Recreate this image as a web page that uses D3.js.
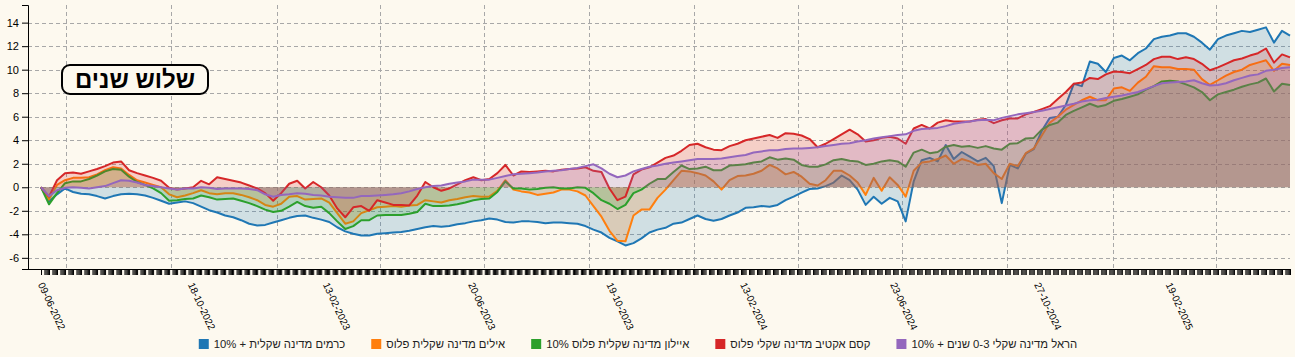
<!DOCTYPE html>
<html><head><meta charset="utf-8">
<script src="https://cdn.jsdelivr.net/npm/d3@7"></script>
<style>
html,body{margin:0;padding:0;background:#fdf9ef;}
svg{display:block;font-family:"Liberation Sans",Arial,sans-serif;}
</style></head><body>
<svg id="chart" width="1295" height="357"></svg>
<script>
const dates = [
"2022-06-09","2022-06-16","2022-06-23","2022-06-30","2022-07-07","2022-07-14","2022-07-21","2022-07-28","2022-08-04","2022-08-11",
"2022-08-18","2022-08-25","2022-09-01","2022-09-08","2022-09-15","2022-09-22","2022-09-29","2022-10-06","2022-10-13","2022-10-20",
"2022-10-27","2022-11-03","2022-11-10","2022-11-17","2022-11-24","2022-12-01","2022-12-08","2022-12-15","2022-12-22","2022-12-29",
"2023-01-05","2023-01-12","2023-01-19","2023-01-26","2023-02-02","2023-02-09","2023-02-16","2023-02-23","2023-03-02","2023-03-09",
"2023-03-16","2023-03-23","2023-03-30","2023-04-06","2023-04-13","2023-04-20","2023-04-27","2023-05-04","2023-05-11","2023-05-18",
"2023-05-25","2023-06-01","2023-06-08","2023-06-15","2023-06-22","2023-06-29","2023-07-06","2023-07-13","2023-07-20","2023-07-27",
"2023-08-03","2023-08-10","2023-08-17","2023-08-24","2023-08-31","2023-09-07","2023-09-14","2023-09-21","2023-09-28","2023-10-05",
"2023-10-12","2023-10-19","2023-10-26","2023-11-02","2023-11-09","2023-11-16","2023-11-23","2023-11-30","2023-12-07","2023-12-14",
"2023-12-21","2023-12-28","2024-01-04","2024-01-11","2024-01-18","2024-01-25","2024-02-01","2024-02-08","2024-02-15","2024-02-22",
"2024-02-29","2024-03-07","2024-03-14","2024-03-21","2024-03-28","2024-04-04","2024-04-11","2024-04-18","2024-04-25","2024-05-02",
"2024-05-09","2024-05-16","2024-05-23","2024-05-30","2024-06-06","2024-06-13","2024-06-20","2024-06-27","2024-07-04","2024-07-11",
"2024-07-18","2024-07-25","2024-08-01","2024-08-08","2024-08-15","2024-08-22","2024-08-29","2024-09-05","2024-09-12","2024-09-19",
"2024-09-26","2024-10-03","2024-10-10","2024-10-17","2024-10-24","2024-10-31","2024-11-07","2024-11-14","2024-11-21","2024-11-28",
"2024-12-05","2024-12-12","2024-12-19","2024-12-26","2025-01-02","2025-01-09","2025-01-16","2025-01-23","2025-01-30","2025-02-06",
"2025-02-13","2025-02-20","2025-02-27","2025-03-06","2025-03-13","2025-03-20","2025-03-27","2025-04-03","2025-04-10","2025-04-17",
"2025-04-24","2025-05-01","2025-05-08","2025-05-15","2025-05-22","2025-05-29","2025-06-05"];

const seriesNames = ["כרמים מדינה שקלית + 10%","אילים מדינה שקלית פלוס","איילון מדינה שקלית פלוס 10%","קסם אקטיב מדינה שקלי פלוס","הראל מדינה שקלי 0-3 שנים + 10%"];
const seriesColors = ["#1f77b4","#ff7f0e","#2ca02c","#d62728","#9467bd"];

const karmim = [
0,-1.2,-0.6,-0.1,-0.4,-0.55,-0.6,-0.75,-0.95,-0.75,
-0.6,-0.55,-0.6,-0.7,-0.9,-1.15,-1.4,-1.3,-1.2,-1.35,
-1.65,-1.95,-2.15,-2.4,-2.55,-2.8,-3.1,-3.25,-3.2,-3.0,
-2.8,-2.6,-2.45,-2.4,-2.6,-2.75,-2.95,-3.4,-3.75,-3.95,
-4.1,-4.1,-3.95,-3.9,-3.85,-3.8,-3.7,-3.55,-3.4,-3.3,
-3.35,-3.3,-3.15,-3.05,-2.9,-2.8,-2.65,-2.75,-2.95,-3.0,
-2.9,-2.9,-2.95,-3.05,-3.0,-3.0,-3.05,-3.1,-3.3,-3.6,
-3.85,-4.3,-4.6,-4.95,-4.75,-4.35,-3.85,-3.6,-3.45,-3.1,
-3.0,-2.7,-2.4,-2.7,-2.85,-2.7,-2.4,-2.15,-1.75,-1.7,
-1.6,-1.65,-1.5,-1.1,-0.8,-0.45,-0.15,-0.1,0.1,0.4,
1.0,0.6,-0.2,-1.5,-0.8,-1.4,-0.9,-1.2,-2.9,0.5,
2.3,2.5,2.2,3.6,2.4,3.0,2.6,2.2,2.5,1.8,
-1.35,1.9,1.6,2.85,3.25,4.8,5.9,6.0,7.0,8.8,
8.6,10.7,10.5,9.8,11.0,11.2,10.8,11.4,11.8,12.6,
12.8,12.9,13.1,13.1,12.8,12.3,11.7,12.6,12.9,13.1,
13.3,13.2,13.4,13.6,12.3,13.3,12.9];

const eilim = [
0,-1.05,0.2,0.6,0.8,0.8,0.85,1.1,1.45,1.7,
1.6,1.05,0.6,0.4,0.2,0.0,-0.6,-0.85,-0.7,-0.5,
-0.25,-0.5,-0.6,-0.5,-0.5,-0.65,-0.85,-1.1,-1.5,-1.65,
-1.4,-0.8,-0.75,-1.05,-1.0,-0.95,-1.3,-2.2,-3.1,-2.9,
-2.2,-1.95,-1.7,-1.65,-1.6,-1.65,-1.55,-1.5,-1.1,-1.2,
-1.3,-1.1,-1.0,-0.85,-0.75,-0.8,-0.8,-0.3,0.6,-0.2,
-0.35,-0.45,-0.65,-0.55,-0.45,-0.2,-0.2,-0.35,-0.7,-1.6,
-2.5,-3.7,-4.55,-4.6,-2.4,-1.9,-1.9,-0.9,-0.2,0.6,
1.4,1.35,1.2,1.0,0.5,-0.2,0.6,0.95,1.0,1.15,
1.4,1.9,1.6,1.1,1.3,0.9,0.3,0.15,0.6,1.4,
1.4,1.0,0.4,-0.65,0.8,-0.3,0.85,0.2,-0.8,1.4,
2.1,2.2,2.4,2.7,2.0,2.4,2.2,1.9,2.0,1.2,
0.7,2.0,1.8,2.9,3.3,4.4,5.5,6.0,6.6,7.0,
7.4,7.7,7.4,7.4,8.4,8.5,8.2,8.9,9.4,10.3,
10.2,10.2,10.05,10.05,10.0,9.2,8.7,9.1,9.5,9.8,
10.0,10.4,10.6,10.8,9.9,10.5,10.4];

const ayalon = [
0,-1.45,-0.5,0.35,0.5,0.5,0.7,1.0,1.35,1.55,
1.5,0.9,0.45,0.2,-0.1,-0.5,-1.15,-1.1,-1.0,-0.95,
-0.7,-0.85,-1.05,-1.0,-0.95,-1.15,-1.35,-1.6,-1.9,-2.1,
-2.0,-1.65,-1.25,-1.6,-1.75,-1.65,-2.2,-2.9,-3.55,-3.3,
-2.8,-2.8,-2.4,-2.35,-2.35,-2.35,-2.25,-2.1,-1.4,-1.6,
-1.6,-1.55,-1.45,-1.3,-1.1,-1.0,-0.95,-0.4,0.5,-0.1,
-0.1,-0.2,-0.15,-0.05,0.0,-0.1,-0.1,0.0,-0.05,-0.5,
-1.1,-1.4,-1.85,-1.5,-0.5,-0.2,0.3,0.7,0.7,1.3,
1.85,1.55,1.6,1.75,1.45,1.45,1.85,1.9,1.95,2.1,
2.2,2.55,2.35,2.45,2.35,1.9,1.75,1.75,1.95,2.3,
2.4,2.25,2.2,1.9,2.0,2.2,2.3,2.2,1.75,2.95,
3.2,2.9,3.0,3.45,3.6,3.45,3.5,3.35,3.5,3.3,
3.2,3.7,3.75,4.15,4.2,4.9,5.3,5.5,6.15,6.5,
6.8,7.1,6.85,7.0,7.35,7.5,7.7,7.9,8.3,8.6,
9.0,9.05,9.0,8.75,8.5,8.1,7.4,7.9,8.1,8.3,
8.55,8.75,8.9,9.25,8.15,8.8,8.7];

const kesem = [
0,-0.8,0.6,1.2,1.25,1.15,1.35,1.55,1.8,2.1,
2.2,1.45,1.2,1.0,0.8,0.55,-0.05,-0.2,-0.1,0.0,
0.55,0.25,0.85,0.7,0.55,0.4,0.15,-0.1,-0.5,-1.15,
-0.5,0.3,0.55,-0.1,0.45,0.0,-0.7,-1.8,-2.55,-1.7,
-1.6,-2.0,-1.1,-1.3,-1.5,-1.5,-1.55,-0.7,0.45,0.0,
-0.3,-0.1,0.25,0.6,0.85,0.6,0.7,1.2,1.9,1.0,
1.35,1.3,1.35,1.4,1.35,1.5,1.55,1.6,1.7,1.4,
1.3,-0.1,-1.1,-0.8,1.1,1.5,1.7,2.1,2.5,2.7,
3.1,3.6,3.7,3.4,3.2,3.15,3.5,3.7,4.0,4.15,
4.3,4.45,4.2,4.6,4.55,4.4,4.1,3.4,3.7,4.1,
4.5,4.9,4.5,3.9,4.0,4.2,4.3,4.15,3.7,5.0,
5.3,5.0,5.5,5.7,5.6,5.6,5.6,5.75,5.8,5.45,
5.7,5.85,5.85,6.2,6.4,6.65,6.9,7.5,8.1,8.8,
8.9,9.3,9.2,9.6,9.85,9.8,9.7,10.05,10.4,10.9,
11.1,11.1,10.9,11.05,10.9,10.5,9.95,10.2,10.5,10.8,
10.95,11.2,11.4,11.8,10.6,11.3,11.05];

const harel = [
0,-0.75,-0.25,-0.05,0.0,-0.05,-0.1,0.0,0.1,0.35,
0.6,0.55,0.4,0.2,0.1,0.0,-0.1,-0.2,-0.1,-0.1,
0.0,-0.05,-0.15,-0.1,-0.1,-0.1,-0.15,-0.25,-0.6,-0.8,
-0.65,-0.6,-0.5,-0.55,-0.65,-0.7,-0.8,-0.85,-0.9,-0.9,
-0.75,-0.75,-0.7,-0.65,-0.6,-0.5,-0.35,-0.15,0.0,0.1,
0.15,0.3,0.4,0.5,0.65,0.65,0.65,0.8,0.95,1.1,
1.15,1.2,1.25,1.35,1.4,1.45,1.55,1.65,1.8,1.95,
1.6,1.15,0.85,1.0,1.35,1.55,1.75,1.85,2.0,2.1,
2.2,2.3,2.4,2.4,2.4,2.45,2.55,2.65,2.75,2.95,
3.05,3.15,3.15,3.25,3.3,3.3,3.35,3.4,3.5,3.6,
3.7,3.75,3.9,4.0,4.15,4.25,4.35,4.45,4.5,4.8,
4.95,5.0,5.05,5.2,5.4,5.5,5.6,5.7,5.75,5.7,
5.9,6.05,6.2,6.3,6.4,6.5,6.65,6.8,6.95,7.1,
7.3,7.4,7.45,7.6,7.7,7.8,7.95,8.1,8.35,8.6,
8.85,8.9,8.95,9.0,9.1,8.85,8.65,8.7,8.85,9.1,
9.3,9.5,9.6,9.9,10.0,10.15,10.2];

const tickLabels = ["09-06-2022","18-10-2022","13-02-2023","20-06-2023","19-10-2023","13-02-2024","23-06-2024","27-10-2024","19-02-2025"];
const yTicks = [-6,-4,-2,0,2,4,6,8,10,12,14];
const yDomain = [-6.95, 15.5];
const titleText = "שלוש שנים";

const seriesValues = [karmim, eilim, ayalon, kesem, harel];

const W = 1295, H = 357;
const plotLeft = 28, xStart = 41, xEnd = 1290, plotTop = 5, plotBottom = 269;
const bg = "#fdf9ef";

const parse = d3.timeParse("%Y-%m-%d");
const parseLabel = d3.timeParse("%d-%m-%Y");
const dateObjs = dates.map(parse);
const labelDates = tickLabels.map(parseLabel);

const svg = d3.select("#chart");
svg.append("rect").attr("width", W).attr("height", H).attr("fill", bg);

const x = d3.scaleTime().domain([dateObjs[0], dateObjs[dateObjs.length-1]]).range([xStart, xEnd]);
const y = d3.scaleLinear().domain(yDomain).range([plotBottom, plotTop]);

// grid
const grid = svg.append("g").attr("stroke", "#a8a8a8").attr("stroke-width", 1).attr("stroke-dasharray", "4,3");
grid.selectAll("line.h").data(yTicks).join("line").attr("class","h")
  .attr("x1", plotLeft).attr("x2", xEnd)
  .attr("y1", d => Math.round(y(d)) + 0.5).attr("y2", d => Math.round(y(d)) + 0.5);
grid.selectAll("line.v").data(x.ticks(d3.timeMonth.every(3))).join("line").attr("class","v")
  .attr("x1", d => Math.round(x(d)) + 0.5).attr("x2", d => Math.round(x(d)) + 0.5)
  .attr("y1", plotTop).attr("y2", plotBottom);

// series
const area = d3.area().defined(d => d.v !== null).x(d => x(d.date)).y0(y(0)).y1(d => y(d.v));
const line = d3.line().defined(d => d.v !== null).x(d => x(d.date)).y(d => y(d.v));
const seriesG = svg.append("g");
seriesValues.forEach((vals, i) => {
  const data = vals.map((v, j) => ({date: dateObjs[j], v}));
  seriesG.append("path").datum(data).attr("d", area).attr("fill", seriesColors[i]).attr("fill-opacity", 0.2);
  seriesG.append("path").datum(data).attr("d", line).attr("fill", "none")
    .attr("stroke", seriesColors[i]).attr("stroke-width", 2).attr("stroke-linejoin", "round");
});

// y axis
const yAxis = svg.append("g").attr("transform", `translate(${plotLeft},0)`)
  .call(d3.axisLeft(y).tickValues(yTicks).tickSize(6).tickFormat(d => String(d)));
yAxis.selectAll("text").style("font-size", "11px").attr("fill", "#000");
yAxis.selectAll("path,line").attr("stroke", "#000");

// x axis: ticks for each trading day
const tradingDays = d3.timeDay.range(dateObjs[0], d3.timeDay.offset(dateObjs[dateObjs.length-1], 1))
  .filter(d => d.getDay() !== 5 && d.getDay() !== 6);
const xAxis = svg.append("g").attr("transform", `translate(0,${plotBottom})`)
  .call(d3.axisBottom(x).tickValues(tradingDays).tickSize(6).tickFormat(""));
xAxis.select(".domain").remove();
xAxis.selectAll("line").attr("stroke", "#000");
svg.append("line").attr("x1", plotLeft).attr("x2", xEnd).attr("y1", plotBottom + 0.5).attr("y2", plotBottom + 0.5).attr("stroke", "#000");

// x labels
const fmt = d3.timeFormat("%d-%m-%Y");
svg.append("g").selectAll("text").data(labelDates).join("text")
  .attr("transform", d => `translate(${x(d)},${plotBottom + 14}) rotate(65)`)
  .attr("dy", "0.35em").attr("text-anchor", "start")
  .style("font-size", "10px").attr("fill", "#000")
  .text(d => fmt(d));

// title box
const tg = svg.append("g");
tg.append("rect").attr("x", 62).attr("y", 65).attr("width", 146).attr("height", 29).attr("rx", 8)
  .attr("fill", bg).attr("stroke", "#000").attr("stroke-width", 2);
tg.append("text").attr("x", 135).attr("y", 80).attr("dy", "0.35em").attr("text-anchor", "middle")
  .attr("direction", "rtl").style("font-size", "24px").style("font-weight", "bold").attr("fill", "#000").text(titleText);

// legend
const legend = svg.append("g");
const items = seriesNames.map((n, i) => {
  const g = legend.append("g");
  g.append("rect").attr("x", 0).attr("y", -5).attr("width", 10).attr("height", 10).attr("fill", seriesColors[i]);
  const t = g.append("text").attr("x", 15).attr("dy", "0.35em").attr("direction", "rtl").attr("text-anchor", "end")
    .style("font-size", "11.3px").attr("fill", "#222").text(n);
  return {g, w: t.node().getComputedTextLength()};
});
const gap = 26;
const total = items.reduce((s, it) => s + 15 + it.w, 0) + gap * (items.length - 1);
let pos = 638 - total / 2;
items.forEach(it => { it.g.attr("transform", `translate(${pos},344)`); pos += 15 + it.w + gap; });
</script>
</body></html>
